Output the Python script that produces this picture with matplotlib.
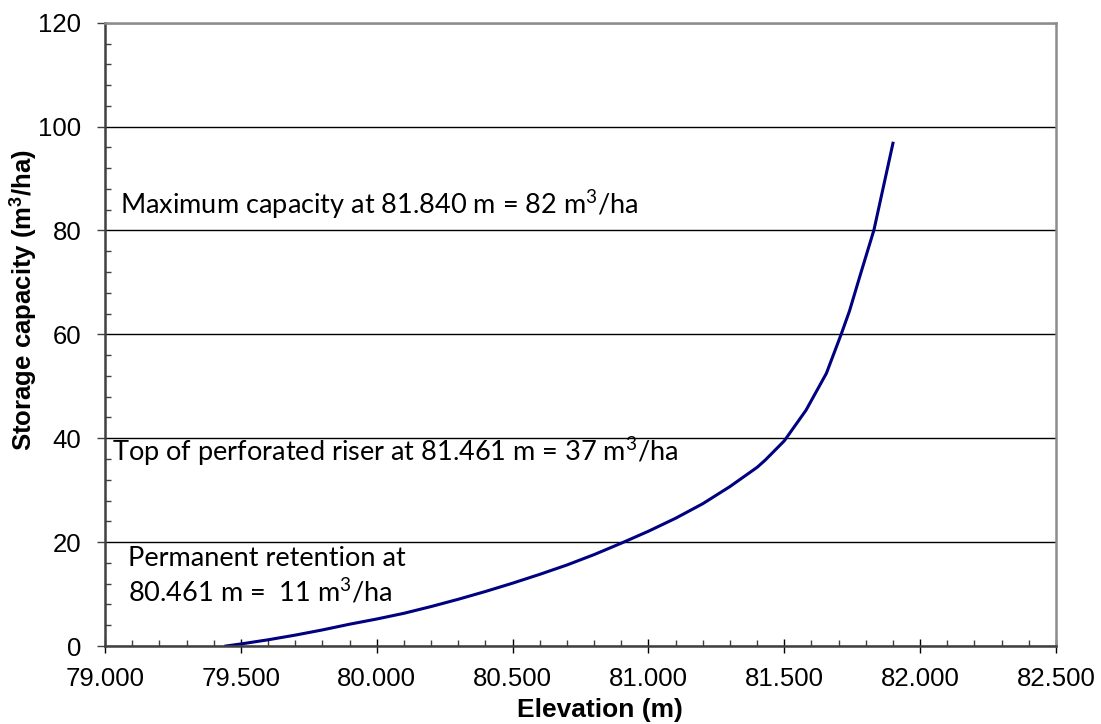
import matplotlib
matplotlib.use('Agg')
import matplotlib.pyplot as plt
from matplotlib.ticker import MultipleLocator, FormatStrFormatter

plt.rcParams["mathtext.fontset"] = "custom"
plt.rcParams["mathtext.rm"] = "Lato"
plt.rcParams["mathtext.it"] = "Lato:italic"
plt.rcParams["mathtext.bf"] = "Liberation Sans:bold"

# stage-storage curve for the pond
elevation = [79.445, 79.50, 79.60, 79.70, 79.80, 79.90, 80.00, 80.10, 80.20, 80.30,
             80.40, 80.50, 80.60, 80.70, 80.80, 80.90, 81.00, 81.10, 81.20, 81.30,
             81.40, 81.43, 81.50, 81.58, 81.655, 81.71, 81.74, 81.78, 81.83, 81.90]
storage = [0.0, 0.4, 1.2, 2.1, 3.1, 4.2, 5.2, 6.3, 7.6, 9.0,
           10.5, 12.1, 13.8, 15.6, 17.6, 19.8, 22.1, 24.6, 27.4, 30.7,
           34.4, 35.8, 39.5, 45.4, 52.5, 60.1, 64.5, 71.5, 80.1, 96.8]

# (x, y of baseline, text)
notes = [
    (79.055, 83.2, "Maximum capacity at 81.840 m = 82 m$^3$/ha"),
    (79.025, 35.6, "Top of perforated riser at 81.461 m = 37 m$^3$/ha"),
    (79.086, 15.5, "Permanent retention at"),
    (79.086, 8.5, "80.461 m =  11 m$^3$/ha"),
]

fig = plt.figure(figsize=(11.01, 7.24), dpi=100)
ax = fig.add_axes([0.0954, 0.1077, 0.8637, 0.8609])

ax.plot(elevation, storage, color="#000080", linewidth=2.2)

ax.set_xlim(79.0, 82.5)
ax.set_ylim(0, 120)
ax.xaxis.set_major_locator(MultipleLocator(0.5))
ax.xaxis.set_minor_locator(MultipleLocator(0.1))
ax.xaxis.set_major_formatter(FormatStrFormatter("%.3f"))
ax.yaxis.set_major_locator(MultipleLocator(20))
ax.yaxis.set_minor_locator(MultipleLocator(4))

ax.grid(True, axis="y", which="major", color="black", linewidth=1.0)
ax.set_axisbelow(True)

for side in ("left", "bottom"):
    ax.spines[side].set_color("#404040")
    ax.spines[side].set_linewidth(1.8)
for side in ("top", "right"):
    ax.spines[side].set_color("#8c8c8c")
    ax.spines[side].set_linewidth(1.8)

ax.tick_params(axis="x", which="major", direction="inout", length=9.5, width=1.0,
               color="black", labelsize=18.5, pad=10)
ax.tick_params(axis="x", which="minor", direction="in", length=4.5, width=1.0, color="#404040")
ax.tick_params(axis="y", which="major", direction="out", length=5.5, width=1.0,
               color="#404040", labelsize=18.5, pad=11.5)
ax.tick_params(axis="y", which="minor", direction="in", length=4.0, width=1.0, color="#404040")
for lbl in ax.get_xticklabels() + ax.get_yticklabels():
    lbl.set_fontfamily("Liberation Sans")

ax.set_xlabel("Elevation (m)", fontsize=19, fontweight="bold", family="Liberation Sans",
              va="baseline")
ax.xaxis.set_label_coords(0.5205, -0.1139)
ax.set_ylabel(r"Storage capacity (m$^\mathbf{3}$/ha)", fontsize=18.5, fontweight="bold",
              family="Liberation Sans", va="baseline")
ax.yaxis.set_label_coords(-0.0768, 0.556)

for x, y, txt in notes:
    ax.text(x, y, txt, fontsize=19.5, family="Lato", va="baseline", ha="left")

fig.savefig("out.png", dpi=100)
